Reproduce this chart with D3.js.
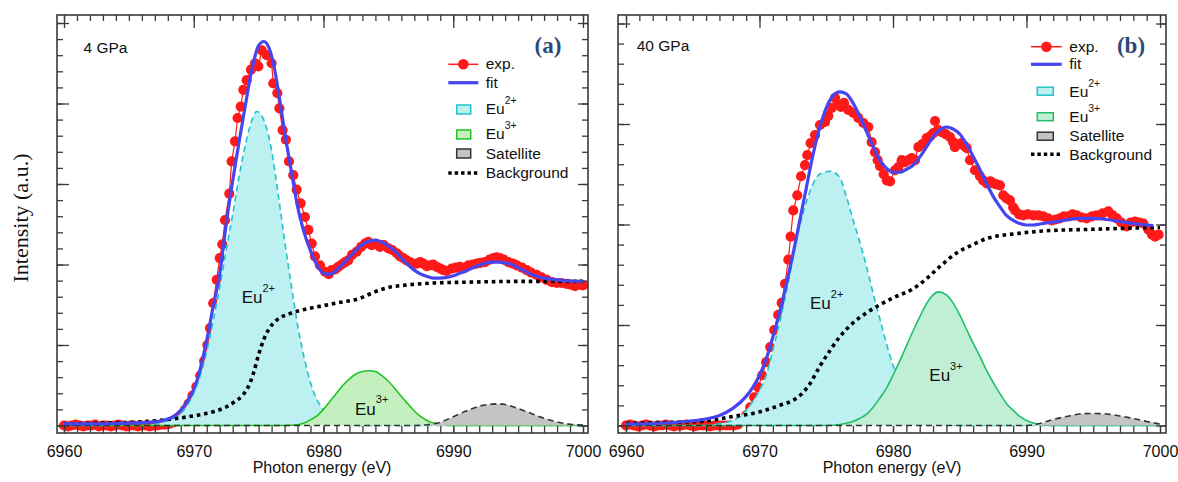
<!DOCTYPE html>
<html><head><meta charset="utf-8">
<script src="https://cdn.jsdelivr.net/npm/d3@7"></script>
<style>body{margin:0;background:#fff}svg{display:block}</style>
</head><body><svg id="c" width="1178" height="482"></svg>
<script>
// ---------- DATA (energy eV, intensity a.u.) ----------
const xTickValues = [6960, 6970, 6980, 6990, 7000];
const panelLabels = ["(a)", "(b)"];
const pressureLabels = ["4 GPa", "40 GPa"];
const legendNames = ["exp.", "fit", "Eu", "Eu", "Satellite", "Background"];

// Panel (a) 4 GPa
const expA = [[6960.0,0.00],[6960.3,-0.01],[6960.6,0.00],[6960.9,0.01],[6961.2,0.00],[6961.5,-0.01],[6961.8,0.00],[6962.1,0.00],[6962.4,0.01],[6962.7,-0.01],[6963.0,0.00],[6963.3,0.00],[6963.6,-0.01],[6963.9,0.00],[6964.2,0.01],[6964.5,0.00],[6964.8,-0.01],[6965.1,0.00],[6965.4,0.00],[6965.7,-0.01],[6966.0,0.00],[6966.3,0.00],[6966.6,-0.01],[6966.9,0.00],[6967.2,0.00],[6967.5,0.01],[6967.8,0.01],[6968.1,0.02],[6968.4,0.04],[6968.7,0.08],[6969.0,0.13],[6969.3,0.19],[6969.6,0.27],[6969.9,0.37],[6970.2,0.48],[6970.5,0.62],[6970.8,0.80],[6971.05,1.00],[6971.25,1.21],[6971.5,1.52],[6971.77,1.81],[6972.0,2.08],[6972.2,2.25],[6972.41,2.55],[6972.74,2.88],[6972.92,3.28],[6973.18,3.53],[6973.38,3.82],[6973.62,3.96],[6973.82,4.17],[6974.08,4.29],[6974.41,4.42],[6974.72,4.50],[6974.98,4.46],[6975.24,4.66],[6975.62,4.60],[6976.0,4.50],[6976.13,4.25],[6976.44,4.13],[6976.6,3.94],[6976.85,3.67],[6977.1,3.55],[6977.34,3.28],[6977.67,3.11],[6977.93,2.93],[6978.24,2.76],[6978.57,2.59],[6978.83,2.43],[6979.09,2.26],[6979.34,2.10],[6979.73,1.99],[6980.12,1.91],[6980.4,1.88],[6980.63,1.93],[6980.9,1.94],[6981.14,1.97],[6981.4,2.00],[6981.66,2.03],[6981.9,2.05],[6982.2,2.12],[6982.56,2.16],[6982.9,2.22],[6983.2,2.26],[6983.45,2.28],[6983.72,2.24],[6984.0,2.26],[6984.35,2.22],[6984.65,2.24],[6985.0,2.20],[6985.3,2.18],[6985.64,2.14],[6985.9,2.10],[6986.15,2.08],[6986.4,2.05],[6986.67,2.03],[6986.9,2.00],[6987.18,2.01],[6987.45,2.03],[6987.7,2.01],[6987.95,1.98],[6988.2,1.99],[6988.45,2.00],[6988.72,1.97],[6989.0,1.95],[6989.23,1.93],[6989.5,1.92],[6989.88,1.95],[6990.2,1.96],[6990.5,1.97],[6990.85,1.96],[6991.17,1.99],[6991.5,2.00],[6991.8,2.01],[6992.1,2.02],[6992.45,2.03],[6992.8,2.06],[6993.1,2.08],[6993.35,2.09],[6993.6,2.08],[6993.9,2.06],[6994.25,2.03],[6994.6,2.01],[6994.9,1.99],[6995.3,1.96],[6995.66,1.93],[6996.0,1.90],[6996.43,1.87],[6996.8,1.84],[6997.2,1.81],[6997.6,1.78],[6997.97,1.77],[6998.35,1.77],[6998.74,1.76],[6999.05,1.75],[6999.38,1.73],[6999.77,1.75],[7000.0,1.74]];
const fitA = [[6960,0.02],[6962,0.02],[6964,0.025],[6966,0.035],[6967,0.045],[6968,0.08],[6968.5,0.12],[6969,0.19],[6969.5,0.30],[6970,0.45],[6970.5,0.70],[6971,1.06],[6971.5,1.48],[6972,1.88],[6972.5,2.50],[6973,3.04],[6973.5,3.53],[6974,4.00],[6974.5,4.44],[6975,4.72],[6975.4,4.77],[6975.8,4.69],[6976.2,4.45],[6976.6,4.07],[6977,3.65],[6977.5,3.18],[6978,2.72],[6978.5,2.40],[6979,2.17],[6979.5,1.99],[6980,1.89],[6980.5,1.88],[6981,1.93],[6981.5,2.01],[6982,2.09],[6982.5,2.18],[6983,2.25],[6983.5,2.29],[6984,2.30],[6984.5,2.28],[6985,2.23],[6985.5,2.17],[6986,2.08],[6986.5,2.00],[6987,1.93],[6987.5,1.88],[6988,1.85],[6988.5,1.83],[6989,1.83],[6989.5,1.84],[6990,1.86],[6990.5,1.89],[6991,1.92],[6991.5,1.96],[6992,1.99],[6992.5,2.02],[6993,2.03],[6993.5,2.03],[6994,2.02],[6994.5,2.00],[6995,1.96],[6995.5,1.92],[6996,1.88],[6996.5,1.85],[6997,1.83],[6998,1.81],[6999,1.795],[7000,1.79]];
const eu2A = [[6960,0],[6966,0],[6967,0.02],[6968,0.06],[6969,0.15],[6969.5,0.25],[6970,0.40],[6970.5,0.62],[6971,0.92],[6971.5,1.30],[6972,1.72],[6972.5,2.18],[6973,2.62],[6973.5,3.10],[6974,3.50],[6974.5,3.80],[6974.85,3.90],[6975.2,3.86],[6975.6,3.70],[6976,3.42],[6976.5,2.88],[6977,2.30],[6977.5,1.76],[6978,1.25],[6978.5,0.85],[6979,0.53],[6979.5,0.32],[6980,0.19],[6980.5,0.10],[6981,0.05],[6982,0.01],[6983,0],[7000,0]];
const eu3A = [[6960,0],[6977,0],[6978,0.01],[6978.5,0.03],[6979,0.07],[6979.5,0.12],[6980,0.20],[6980.5,0.30],[6981,0.40],[6981.5,0.50],[6982,0.58],[6982.5,0.64],[6983,0.67],[6983.5,0.68],[6984,0.67],[6984.5,0.62],[6985,0.55],[6985.5,0.46],[6986,0.36],[6986.5,0.27],[6987,0.18],[6987.5,0.11],[6988,0.06],[6988.5,0.03],[6989,0.015],[6990,0],[7000,0]];
const satA = [[6960,0],[6987,0],[6988,0.01],[6989,0.04],[6990,0.11],[6991,0.18],[6992,0.24],[6993,0.265],[6993.5,0.27],[6994,0.26],[6995,0.21],[6996,0.15],[6997,0.09],[6998,0.045],[6999,0.015],[7000,0.005]];
const bgA = [[6960,0.02],[6963,0.03],[6966,0.045],[6968,0.075],[6970,0.12],[6971.5,0.17],[6972.5,0.23],[6973.2,0.30],[6973.8,0.38],[6974.2,0.48],[6974.6,0.65],[6975,0.88],[6975.4,1.07],[6975.8,1.20],[6976.4,1.31],[6977.4,1.39],[6978.2,1.43],[6979.7,1.48],[6981.3,1.53],[6982.8,1.58],[6983.8,1.65],[6984.9,1.71],[6986.4,1.745],[6988.5,1.77],[6991,1.78],[6995,1.79],[7000,1.79]];

// Panel (b) 40 GPa
const expB = [[6960.0,0.00],[6960.3,0.01],[6960.6,0.00],[6960.9,-0.01],[6961.2,0.00],[6961.5,0.01],[6961.8,0.00],[6962.1,-0.01],[6962.4,0.00],[6962.7,0.00],[6963.0,0.01],[6963.3,0.00],[6963.6,-0.01],[6963.9,0.00],[6964.2,0.00],[6964.5,0.01],[6964.8,0.00],[6965.1,-0.01],[6965.4,0.00],[6965.7,0.00],[6966.0,0.00],[6966.3,-0.01],[6966.6,0.00],[6966.9,0.00],[6967.2,0.00],[6967.5,0.00],[6967.8,0.00],[6968.1,0.00],[6968.4,0.01],[6968.7,0.04],[6969.0,0.10],[6969.3,0.18],[6969.6,0.28],[6969.9,0.38],[6970.2,0.50],[6970.5,0.63],[6970.8,0.78],[6971.1,0.95],[6971.4,1.10],[6971.66,1.22],[6971.91,1.41],[6972.16,1.65],[6972.33,1.88],[6972.53,2.14],[6972.83,2.29],[6973.11,2.48],[6973.41,2.59],[6973.58,2.69],[6973.83,2.81],[6974.16,2.89],[6974.53,2.99],[6974.91,3.02],[6975.15,3.08],[6975.41,3.16],[6975.66,3.26],[6975.9,3.19],[6976.1,3.17],[6976.33,3.21],[6976.65,3.14],[6977.03,3.11],[6977.4,3.06],[6977.78,3.01],[6978.15,2.97],[6978.4,2.82],[6978.65,2.72],[6978.85,2.64],[6979.03,2.58],[6979.3,2.50],[6979.53,2.44],[6979.78,2.43],[6980.15,2.54],[6980.4,2.57],[6980.65,2.64],[6980.9,2.62],[6981.15,2.64],[6981.4,2.66],[6981.65,2.64],[6981.9,2.77],[6982.2,2.80],[6982.52,2.86],[6982.8,2.88],[6983.02,2.91],[6983.15,3.03],[6983.4,2.94],[6983.65,2.92],[6983.95,2.90],[6984.27,2.87],[6984.5,2.82],[6984.64,2.77],[6984.9,2.80],[6985.14,2.81],[6985.35,2.78],[6985.52,2.76],[6985.77,2.64],[6986.14,2.54],[6986.52,2.48],[6986.75,2.44],[6987.02,2.41],[6987.3,2.43],[6987.52,2.41],[6987.75,2.40],[6988.01,2.39],[6988.26,2.29],[6988.5,2.26],[6988.76,2.24],[6989.0,2.17],[6989.14,2.14],[6989.45,2.10],[6989.76,2.09],[6990.1,2.10],[6990.51,2.09],[6990.9,2.09],[6991.26,2.08],[6991.6,2.06],[6991.89,2.04],[6992.2,2.05],[6992.5,2.06],[6992.8,2.08],[6993.13,2.08],[6993.45,2.10],[6993.76,2.09],[6994.1,2.07],[6994.5,2.06],[6994.9,2.08],[6995.26,2.09],[6995.7,2.11],[6996.13,2.13],[6996.45,2.09],[6996.76,2.06],[6997.1,2.02],[6997.51,1.98],[6997.8,2.02],[6998.13,2.03],[6998.45,2.02],[6998.75,2.01],[6999.13,1.95],[6999.4,1.90],[6999.63,1.88],[6999.9,1.90]];
const fitB = [[6960,0.015],[6962,0.02],[6964,0.035],[6965.5,0.055],[6966.5,0.08],[6967,0.10],[6968,0.17],[6969,0.29],[6969.5,0.38],[6970,0.50],[6970.5,0.66],[6971,0.88],[6971.5,1.12],[6972,1.40],[6972.5,1.70],[6973,2.03],[6973.5,2.36],[6974,2.69],[6974.5,2.96],[6975,3.16],[6975.5,3.28],[6976,3.32],[6976.5,3.30],[6977,3.21],[6977.5,3.08],[6978,2.93],[6978.5,2.78],[6979,2.64],[6979.5,2.56],[6980,2.52],[6980.5,2.52],[6981,2.55],[6981.5,2.59],[6982,2.67],[6982.5,2.77],[6983,2.87],[6983.5,2.94],[6984,2.97],[6984.5,2.95],[6985,2.90],[6985.5,2.80],[6986,2.68],[6986.5,2.55],[6987,2.41],[6987.5,2.28],[6988,2.18],[6988.5,2.09],[6989,2.04],[6989.5,2.01],[6990,1.995],[6990.5,1.995],[6991,2.005],[6992,2.025],[6993,2.045],[6994,2.06],[6995,2.06],[6996,2.05],[6997,2.03],[6998,2.01],[6999,1.995],[6999.5,1.99]];
const eu2B = [[6960,0],[6966,0],[6967,0.02],[6968,0.05],[6969,0.15],[6969.5,0.24],[6970,0.35],[6970.5,0.50],[6971,0.75],[6971.5,1.02],[6972,1.32],[6972.5,1.66],[6973,1.98],[6973.5,2.22],[6974,2.40],[6974.5,2.50],[6975.3,2.53],[6976,2.47],[6976.5,2.28],[6977,2.05],[6977.5,1.83],[6978,1.59],[6978.5,1.32],[6979,1.07],[6979.5,0.82],[6980,0.60],[6980.5,0.44],[6981,0.30],[6981.5,0.20],[6982,0.12],[6982.5,0.07],[6983,0.04],[6984,0.01],[6985,0],[7000,0]];
const eu3B = [[6960,0],[6975,0],[6976,0.01],[6977,0.04],[6977.5,0.07],[6978,0.11],[6978.5,0.18],[6979,0.27],[6979.5,0.37],[6980,0.50],[6980.5,0.64],[6981,0.79],[6981.5,0.94],[6982,1.08],[6982.5,1.21],[6983,1.30],[6983.4,1.33],[6984,1.30],[6984.5,1.22],[6985,1.10],[6985.5,0.96],[6986,0.82],[6986.5,0.69],[6987,0.55],[6987.5,0.43],[6988,0.32],[6988.5,0.22],[6989,0.15],[6989.5,0.09],[6990,0.05],[6990.5,0.025],[6991,0.01],[6992,0],[7000,0]];
const satB = [[6960,0],[6990,0],[6991,0.02],[6992,0.06],[6993,0.09],[6994,0.115],[6995,0.12],[6996,0.115],[6997,0.095],[6998,0.07],[6999,0.04],[7000,0.015]];
const bgB = [[6960,0.02],[6963,0.03],[6965.5,0.04],[6967,0.065],[6968,0.09],[6969.5,0.12],[6970.5,0.155],[6971.5,0.20],[6972.5,0.25],[6973.2,0.32],[6973.8,0.42],[6974.5,0.585],[6975.3,0.75],[6976,0.88],[6977,1.02],[6978,1.12],[6979,1.20],[6980,1.27],[6981.5,1.36],[6982.5,1.46],[6983.5,1.58],[6984.8,1.72],[6986,1.80],[6987,1.86],[6989.3,1.91],[6991.8,1.94],[6994.3,1.95],[6996.8,1.96],[7000,1.97]];

// ---------- STYLE / LAYOUT ----------
const SANS = "'Liberation Sans', Arial, sans-serif";
const SERIF = "'Liberation Serif', 'Times New Roman', serif";
const C = {
  red: "#ff1a1a", blue: "#4646f0",
  cyanFill: "#bdf0f0", cyanLine: "#22c2cc",
  greenFillA: "#c4f0c0", greenLineA: "#22c422",
  greenFillB: "#c0efd6", greenLineB: "#1fc06a",
  satFill: "#c4c4c4", satLine: "#333", frame: "#3a3a3a", label: "#2b4a78"
};

const svg = d3.select("#c");

const panels = [
  { id: "a", L: 57, R: 588, T: 15, B: 433, xd: [6959.4605, 7000.3854], yd: [-0.0932, 5.0994], yMax: 5,
    exp: expA, fit: fitA, eu2: eu2A, eu3: eu3A, sat: satA, bg: bgA,
    greenFill: C.greenFillA, greenLine: C.greenLineA, label: panelLabels[0], pressure: pressureLabels[0],
    pressPos: [83.5, 53.3], labelPos: [548, 53],
    eu2Lab: [241.7, 303.3], eu3Lab: [355, 414.5],
    leg: { lx0: 448.3, lx1: 478.3, rx: 456.7, rw: 14, rh: 9, tx: 485.7,
      rows: [64.3, 82.7, 109.5, 134.5, 153.5, 173], base: [68.5, 87.5, 114.4, 139.4, 158.8, 177.8] } },
  { id: "b", L: 618, R: 1166, T: 15, B: 433, xd: [6959.401, 7000.449], yd: [-0.0746, 4.0846], yMax: 4,
    exp: expB, fit: fitB, eu2: eu2B, eu3: eu3B, sat: satB, bg: bgB,
    greenFill: C.greenFillB, greenLine: C.greenLineB, label: panelLabels[1], pressure: pressureLabels[1],
    pressPos: [636.7, 51], labelPos: [1131, 53],
    eu2Lab: [810, 309], eu3Lab: [929.3, 381],
    leg: { lx0: 1031, lx1: 1061.7, rx: 1037.3, rw: 16, rh: 8, tx: 1069.3,
      rows: [46.7, 64.3, 91.2, 116.7, 136.2, 154.3], base: [51.7, 69, 96.7, 121.7, 140.7, 160] } }
];

function supText(g, x, y, main, sup, size, supSize, dy) {
  const t = g.append("text").attr("x", x).attr("y", y)
    .attr("font-family", SANS).attr("font-size", size).attr("fill", "#111");
  t.append("tspan").text(main);
  t.append("tspan").attr("dy", dy).attr("font-size", supSize).text(sup);
}

panels.forEach(p => {
  const x = d3.scaleLinear().domain(p.xd).range([p.L, p.R]);
  const y = d3.scaleLinear().domain(p.yd).range([p.B, p.T]);
  const g = svg.append("g");

  svg.append("clipPath").attr("id", "clip" + p.id)
    .append("rect").attr("x", p.L).attr("y", p.T).attr("width", p.R - p.L).attr("height", p.B - p.T);
  const plot = g.append("g").attr("clip-path", `url(#clip${p.id})`);

  const lin = d3.line().x(d => x(d[0])).y(d => y(d[1]));
  const smooth = d3.line().x(d => x(d[0])).y(d => y(d[1])).curve(d3.curveMonotoneX);
  const area = d3.area().x(d => x(d[0])).y0(y(0)).y1(d => y(d[1])).curve(d3.curveMonotoneX);

  // experimental data
  plot.append("path").datum(p.exp).attr("d", lin).attr("fill", "none")
    .attr("stroke", C.red).attr("stroke-width", 1.2);
  plot.append("g").selectAll("circle").data(p.exp).join("circle")
    .attr("cx", d => x(d[0])).attr("cy", d => y(d[1])).attr("r", 5.1).attr("fill", C.red);

  // components
  plot.append("path").datum(p.eu2).attr("d", area).attr("fill", C.cyanFill);
  plot.append("path").datum(p.eu2).attr("d", smooth).attr("fill", "none")
    .attr("stroke", C.cyanLine).attr("stroke-width", 1.6).attr("stroke-dasharray", "6,4");
  plot.append("path").datum(p.eu3).attr("d", area).attr("fill", p.greenFill);
  plot.append("path").datum(p.eu3).attr("d", smooth).attr("fill", "none")
    .attr("stroke", p.greenLine).attr("stroke-width", 1.6);
  plot.append("path").datum(p.sat).attr("d", area).attr("fill", C.satFill);
  plot.append("path").datum(p.sat).attr("d", smooth).attr("fill", "none")
    .attr("stroke", C.satLine).attr("stroke-width", 1.6).attr("stroke-dasharray", "6,4");

  // background
  plot.append("path").datum(p.bg).attr("d", smooth).attr("fill", "none")
    .attr("stroke", "#000").attr("stroke-width", 3.6).attr("stroke-dasharray", "3.6,3.8");

  // fit
  plot.append("path").datum(p.fit).attr("d", smooth).attr("fill", "none")
    .attr("stroke", C.blue).attr("stroke-width", 3.2).attr("stroke-linejoin", "round");

  // axes (ticks inward)
  const minorX = d3.range(6960, 7000.5, 1);
  const majorY = d3.range(0, p.yMax + 0.01, 1);
  const minorY = d3.range(0, p.yMax + 0.01, 0.2).map(v => +v.toFixed(2));
  const styleAxis = sel => { sel.select(".domain").remove(); sel.selectAll("line").attr("stroke", C.frame).attr("stroke-width", 1.3); };

  g.append("g").attr("transform", `translate(0,${p.B})`)
    .call(d3.axisBottom(x).tickValues(minorX).tickSize(-7).tickFormat("")).call(styleAxis);
  g.append("g").attr("transform", `translate(0,${p.B})`)
    .call(d3.axisBottom(x).tickValues(xTickValues).tickSize(-7).tickPadding(12.5).tickFormat(d3.format("d")))
    .call(styleAxis)
    .call(s => s.selectAll("text").attr("font-family", SANS).attr("font-size", 16).attr("fill", "#111"));
  g.append("g").attr("transform", `translate(0,${p.T})`)
    .call(d3.axisTop(x).tickValues(minorX).tickSize(-6).tickFormat("")).call(styleAxis);
  g.append("g").attr("transform", `translate(0,${p.T})`)
    .call(d3.axisTop(x).tickValues(xTickValues).tickSize(-13).tickFormat("")).call(styleAxis);
  g.append("g").attr("transform", `translate(${p.L},0)`)
    .call(d3.axisLeft(y).tickValues(minorY).tickSize(-6).tickFormat("")).call(styleAxis);
  g.append("g").attr("transform", `translate(${p.L},0)`)
    .call(d3.axisLeft(y).tickValues(majorY).tickSize(-12).tickFormat("")).call(styleAxis);
  g.append("g").attr("transform", `translate(${p.R},0)`)
    .call(d3.axisRight(y).tickValues(minorY).tickSize(-6).tickFormat("")).call(styleAxis);
  g.append("g").attr("transform", `translate(${p.R},0)`)
    .call(d3.axisRight(y).tickValues(majorY).tickSize(-10).tickFormat("")).call(styleAxis);

  g.append("rect").attr("x", p.L).attr("y", p.T).attr("width", p.R - p.L).attr("height", p.B - p.T)
    .attr("fill", "none").attr("stroke", C.frame).attr("stroke-width", 1.6);

  // x label
  g.append("text").attr("x", (p.L + p.R) / 2 + (p.id === "a" ? -0.5 : 0)).attr("y", 473)
    .attr("text-anchor", "middle").attr("font-family", SANS).attr("font-size", 16).attr("fill", "#111")
    .text("Photon energy (eV)");

  // pressure & panel label
  g.append("text").attr("x", p.pressPos[0]).attr("y", p.pressPos[1]).attr("font-family", SANS)
    .attr("font-size", 15.5).attr("fill", "#111").text(p.pressure);
  g.append("text").attr("x", p.labelPos[0]).attr("y", p.labelPos[1]).attr("text-anchor", "middle")
    .attr("font-family", SERIF).attr("font-weight", "bold").attr("font-size", 23)
    .attr("fill", C.label).text(p.label);

  // in-plot labels
  supText(g, p.eu2Lab[0], p.eu2Lab[1], "Eu", "2+", 17, 11, -11.5);
  supText(g, p.eu3Lab[0], p.eu3Lab[1], "Eu", "3+", 17, 11, -11.5);

  // legend
  const L = p.leg, lg = g.append("g");
  lg.append("line").attr("x1", L.lx0).attr("x2", L.lx1).attr("y1", L.rows[0]).attr("y2", L.rows[0])
    .attr("stroke", C.red).attr("stroke-width", 1.5);
  lg.append("circle").attr("cx", (L.lx0 + L.lx1) / 2).attr("cy", L.rows[0]).attr("r", 5.3).attr("fill", C.red);
  lg.append("line").attr("x1", L.lx0).attr("x2", L.lx1).attr("y1", L.rows[1]).attr("y2", L.rows[1])
    .attr("stroke", C.blue).attr("stroke-width", 3.2);
  const rects = [[C.cyanFill, C.cyanLine], [p.greenFill, p.greenLine], [C.satFill, "#333"]];
  rects.forEach((r, i) => {
    lg.append("rect").attr("x", L.rx).attr("y", L.rows[i + 2] - L.rh / 2).attr("width", L.rw).attr("height", L.rh)
      .attr("fill", r[0]).attr("stroke", r[1]).attr("stroke-width", 1.5);
  });
  lg.append("line").attr("x1", L.lx0).attr("x2", L.lx1).attr("y1", L.rows[5]).attr("y2", L.rows[5])
    .attr("stroke", "#000").attr("stroke-width", 3.4).attr("stroke-dasharray", "3.4,3");
  const txt = (i, s) => lg.append("text").attr("x", L.tx).attr("y", L.base[i]).attr("font-family", SANS)
    .attr("font-size", 15.5).attr("fill", "#111").text(s);
  txt(0, legendNames[0]); txt(1, legendNames[1]);
  supText(lg, L.tx, L.base[2], legendNames[2], "2+", 15.5, 10.5, -10);
  supText(lg, L.tx, L.base[3], legendNames[3], "3+", 15.5, 10.5, -10);
  txt(4, legendNames[4]); txt(5, legendNames[5]);
});

// y label
svg.append("text").attr("transform", "translate(28,218) rotate(-90)").attr("text-anchor", "middle")
  .attr("font-family", SERIF).attr("font-size", 22).attr("fill", "#111").text("Intensity (a.u.)");
</script>
</body></html>
